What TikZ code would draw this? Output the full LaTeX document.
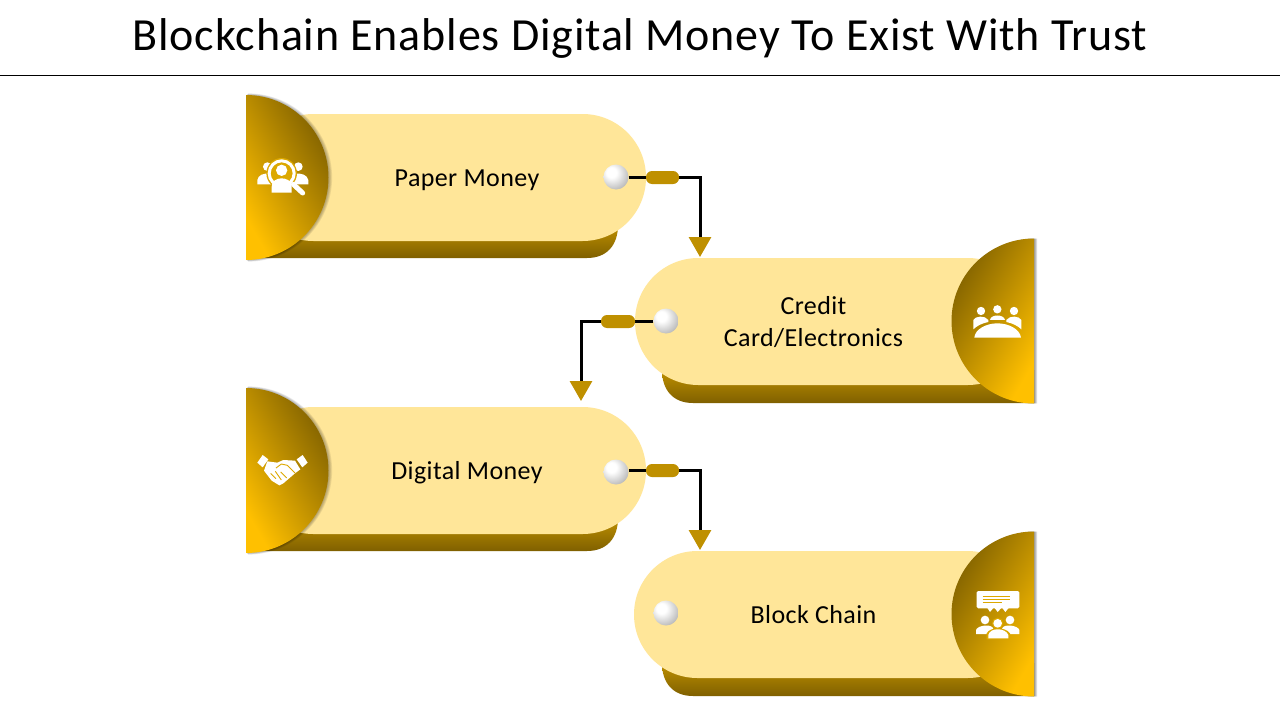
\documentclass[tikz,border=0pt]{standalone}
\usepackage{fontspec}
\setmainfont{Carlito}
\newfontfamily\titlefont[LetterSpace=1.8]{Carlito}
\newfontfamily\labelfont[LetterSpace=1.5]{Carlito}
\usetikzlibrary{arrows.meta}
\definecolor{bodygold}{HTML}{FFE699}
\definecolor{midgold}{HTML}{BF9000}
\definecolor{darkgold}{HTML}{7F6000}
\definecolor{lightgold}{HTML}{FFC000}
\definecolor{gapgold}{HTML}{DCA800}
\pgfdeclareradialshading{pearl}{\pgfpoint{-10bp}{10bp}}{color(0bp)=(white);color(10bp)=(white);color(36bp)=(black!30);color(56bp)=(black!65);color(100bp)=(black!65)}
\tikzset{
  cardbody/.style={fill=bodygold,draw=none,rounded corners=63.4pt,minimum height=127pt,inner sep=0pt,outer sep=0pt},
  label/.style={font=\labelfont\fontsize{26}{32}\selectfont,align=center,text=black,inner sep=0pt},
  ballnode/.style={circle,minimum size=25pt,inner sep=0pt,shading=pearl,draw=none},
  pill/.style={fill=midgold,draw=none,rounded corners=6pt,minimum width=33pt,minimum height=13pt,inner sep=0pt},
  wire/.style={draw=black,line width=3pt,-{Triangle[color=midgold,width=22pt,length=20pt]}},
  icon/.style={fill=white,draw=none},
  band/.style={top color=midgold,bottom color=darkgold,draw=none},
}
\newcommand{\BandL}[1]{\path[band,shift={(0,#1)}] (250,225) -- (618,225) .. controls (618,245) and (607,258) .. (587,258) -- (250,258) -- cycle;}
\newcommand{\BandR}[1]{\path[band,shift={(0,#1)}] (1034,225) -- (662,225) .. controls (662,245) and (673,258) .. (693,258) -- (1034,258) -- cycle;}
\newcommand{\DiscL}[1]{%
  \foreach \k in {1,...,4}{\fill[black,opacity=.08] (246+\k*.5,#1-82.5-\k*.4) arc[start angle=-90,end angle=90,radius=82.5+\k*.4] -- cycle;}
  \path[left color=lightgold,right color=darkgold,shading angle=120] (246,#1-82.5) arc[start angle=-90,end angle=90,radius=82.5] -- cycle;}
\newcommand{\DiscR}[1]{%
  \foreach \k in {1,2,3}{\fill[black,opacity=.14] (1034+\k,#1-82.5) arc[start angle=-90,end angle=-270,radius=82.5] -- cycle;}
  \path[left color=lightgold,right color=darkgold,shading angle=240] (1034,#1-82.5) arc[start angle=-90,end angle=-270,radius=82.5] -- cycle;}
\begin{document}
\begin{tikzpicture}[x=1pt,y=-1pt]
\useasboundingbox (0,0) rectangle (1280,720);
\fill[white] (0,0) rectangle (1280,720);
\node[font=\titlefont\fontsize{46}{50}\selectfont,inner sep=0pt,anchor=base] (title) at (640,50) {Blockchain Enables Digital Money To Exist With Trust};
\coordinate (ruleL) at (0,75.5);
\coordinate (ruleR) at (1280,75.5);
\draw[black,line width=.8pt] (ruleL) -- (ruleR);

% cards
\BandL{0}
\node[cardbody,minimum width=396pt] (card1) at (448,177.5) {};
\BandR{145}
\node[cardbody,minimum width=396pt] (card2) at (833,321.5) {};
\BandL{293}
\node[cardbody,minimum width=396pt] (card3) at (448,470.5) {};
\BandR{438}
\node[cardbody,minimum width=397pt] (card4) at (832.5,614.5) {};

\node[label,anchor=base] (t1) at (467,186) {Paper Money};
\node[label] (t2) at (813.5,322.5) {Credit\\Card/Electronics};
\node[label,anchor=base] (t3) at (467,479) {Digital Money};
\node[label,anchor=base] (t4) at (813.5,623) {Block Chain};

% connectors
\node[ballnode] (ball1) at (616,177) {};
\node[ballnode] (ball2) at (666,321) {};
\node[ballnode] (ball3) at (616,472) {};
\node[ballnode] (ball4) at (666,613) {};
\coordinate (end1) at (700,257);
\coordinate (end2) at (581,401);
\coordinate (end3) at (700,550);
\draw[wire] (ball1.east) -- (700,177) -- (end1);
\draw[wire] (ball2.west) -- (581,321) -- (end2);
\draw[wire] (ball3.east |- 0,470) -- (700,470) -- (end3);
\node[pill] (pill1) at (662.5,177.5) {};
\node[pill,minimum width=34pt] (pill2) at (618,321.5) {};
\node[pill] (pill3) at (662.5,470.5) {};

% half discs
\DiscL{177.5}
\DiscR{321}
\DiscL{470.5}
\DiscR{614}

% icon: people under magnifier
\begin{scope}[shift={(230,85)},x=.3333pt,y=-.3333pt]
  \fill[icon] (112,245) circle[radius=13];
  \fill[icon] (205,245) circle[radius=13];
  \fill[icon] (82,298) -- (82,285) .. controls (85,270) and (100,264) .. (120,266) -- (125,298) -- cycle;
  \fill[icon] (235,298) -- (235,285) .. controls (232,270) and (215,264) .. (195,266) -- (190,298) -- cycle;
  \fill[gapgold] (155,265) circle[radius=46];
  \fill[icon] (155,256) circle[radius=17];
  \fill[icon] (125,323) -- (125,305) .. controls (125,288) and (140,280) .. (155,280) .. controls (170,280) and (185,288) .. (185,305) -- (185,323) -- cycle;
  \draw[white,line width=3pt] (155,265) circle[radius=37.5];
  \draw[white,line width=5pt,line cap=round] (190,298) -- (218,324);
\end{scope}

% icon: people round a table
\begin{scope}[shift={(940,230)},x=.3333pt,y=-.3333pt]
  \fill[icon] (123,243) circle[radius=12.5];
  \fill[icon] (172,238) circle[radius=12.5];
  \fill[icon] (222,243) circle[radius=12.5];
  \fill[icon] (150,270) .. controls (152,252) and (192,252) .. (195,270) -- cycle;
  \fill[icon] (100,298) -- (100,270) .. controls (105,258) and (135,255) .. (145,270) -- (145,276) .. controls (125,280) and (110,288) .. cycle;
  \fill[icon] (244,298) -- (244,270) .. controls (239,258) and (209,255) .. (199,270) -- (199,276) .. controls (219,280) and (234,288) .. cycle;
  \fill[icon] (103,323) .. controls (105,297) and (140,280) .. (172,280) .. controls (205,280) and (240,297) .. (243,323) -- cycle;
\end{scope}

% icon: handshake
\begin{scope}[shift={(240,440)},x=.3333pt,y=-.3333pt]
  \fill[icon] (52,68) -- (68,45) -- (85,58) -- (68,82) -- cycle;
  \fill[icon] (170,58) -- (188,45) -- (203,68) -- (187,82) -- cycle;
  \fill[icon] (82,64) -- (112,68) -- (130,60) -- (165,62) -- (181,88) -- (165,100) -- (130,130) -- (118,136) -- (95,122) -- (72,92) -- cycle;
  \draw[gapgold,line width=.9pt] (108,84) -- (124,72) -- (142,76) -- (166,100);
  \draw[gapgold,line width=.9pt] (92,100) -- (108,116);
  \draw[gapgold,line width=.9pt] (106,94) -- (124,120);
  \draw[gapgold,line width=.9pt] (122,96) -- (140,114);
\end{scope}

% icon: speech bubble over people
\begin{scope}[shift={(960,580)},x=.3333pt,y=-.3333pt]
  \fill[icon,rounded corners=1.5pt] (50,33) rectangle (178,85);
  \fill[icon] (82,84) -- (90,96) -- (100,84) -- cycle;
  \fill[icon] (104,84) -- (113,96) -- (124,84) -- cycle;
  \fill[icon] (127,84) -- (136,96) -- (146,84) -- cycle;
  \draw[gapgold,line width=.7pt] (68,48) -- (150,48);
  \draw[gapgold,line width=.7pt] (68,58) -- (150,58);
  \draw[gapgold,line width=.7pt] (68,68) -- (125,68);
  \fill[icon] (75,120) circle[radius=13];
  \fill[icon] (150,120) circle[radius=13];
  \fill[icon] (48,162) -- (48,150) .. controls (52,136) and (95,130) .. (100,146) -- (80,162) -- cycle;
  \fill[icon] (178,162) -- (178,150) .. controls (174,136) and (131,130) .. (126,146) -- (146,162) -- cycle;
  \fill[gapgold] (113,130) circle[radius=17];
  \fill[gapgold] (80,178) -- (80,160) .. controls (90,140) and (136,140) .. (150,160) -- (150,178) -- cycle;
  \fill[icon] (113,130) circle[radius=13];
  \fill[icon] (85,175) -- (85,165) .. controls (90,142) and (136,142) .. (145,165) -- (145,175) -- cycle;
\end{scope}
\end{tikzpicture}
\end{document}
